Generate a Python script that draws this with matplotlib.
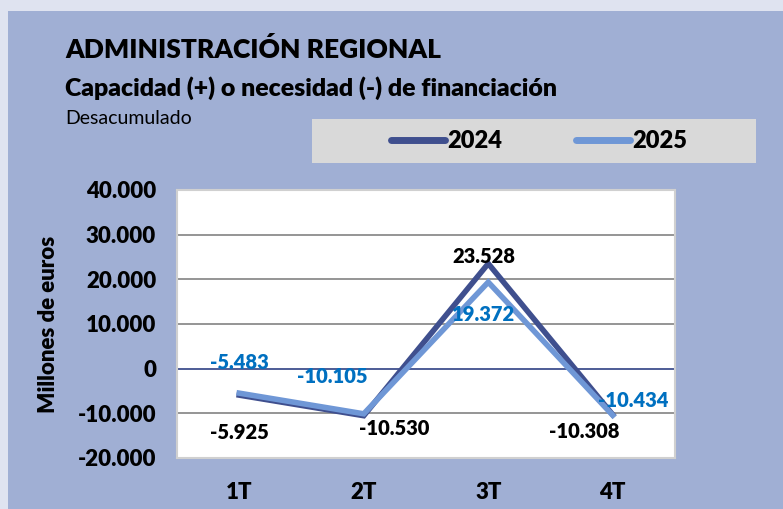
import matplotlib
matplotlib.use("Agg")
import matplotlib.pyplot as plt
from matplotlib.patches import Rectangle
from matplotlib.lines import Line2D

plt.rcParams['font.family'] = ['Lato', 'DejaVu Sans']
BOLD = "heavy"

# data
quarters = ["1T", "2T", "3T", "4T"]
values_2024 = [-5925, -10530, 23528, -10308]
values_2025 = [-5483, -10105, 19372, -10434]
labels_2024 = ["-5.925", "-10.530", "23.528", "-10.308"]
labels_2025 = ["-5.483", "-10.105", "19.372", "-10.434"]
y_ticks = [-20000, -10000, 0, 10000, 20000, 30000, 40000]
y_tick_labels = ["-20.000", "-10.000", "0", "10.000", "20.000", "30.000", "40.000"]

color_2024 = "#3F4F8E"
color_2025 = "#6F97D6"
label_blue = "#0070C0"
panel = "#A0AFD4"
outer = "#DFE3F0"

W, H = 783, 509
fig = plt.figure(figsize=(W / 100, H / 100), dpi=100)
fig.patch.set_facecolor(outer)
fig.patches.append(Rectangle((8 / W, 0), 1, 1 - 11 / H, transform=fig.transFigure,
                             facecolor=panel, edgecolor="none", zorder=0))

# titles
fig.text(65 / W, 1 - 50 / H, "ADMINISTRACIÓN REGIONAL", fontsize=19, fontweight=BOLD,
         va="center", ha="left")
fig.text(65 / W, 1 - 88 / H, "Capacidad (+) o necesidad (-) de financiación", fontsize=17.9,
         fontweight=BOLD, va="center", ha="left")
fig.text(65 / W, 1 - 118 / H, "Desacumulado", fontsize=14, va="center", ha="left")

# legend box
fig.patches.append(Rectangle((312 / W, 1 - 163 / H), 444 / W, 44 / H, transform=fig.transFigure,
                             facecolor="#D9D9D9", edgecolor="none", zorder=1))
handles = [Line2D([], [], color=color_2024, lw=5, solid_capstyle="round"),
           Line2D([], [], color=color_2025, lw=5, solid_capstyle="round")]
fig.legend(handles, ["2024", "2025"], loc="center left", bbox_to_anchor=(379 / W, 1 - 141 / H),
           ncol=2, frameon=False, prop={"weight": BOLD, "size": 17},
           handlelength=2.3, handletextpad=0.1, columnspacing=3.1, borderpad=0)

# plot area
ax = fig.add_axes([177 / W, 1 - 458 / H, 498 / W, 268 / H])
ax.set_zorder(3)
ax.set_facecolor("white")
x = list(range(len(quarters)))
ax.set_xlim(-0.5, 3.5)
ax.set_ylim(-20000, 40000)
ax.set_yticks(y_ticks)
ax.set_yticklabels(y_tick_labels)
ax.set_xticks(x)
ax.set_xticklabels(quarters)
for t in ax.get_xticklabels() + ax.get_yticklabels():
    t.set_fontweight(BOLD)
    t.set_fontsize(16)
ax.tick_params(length=0)
ax.tick_params(axis="y", pad=15)
ax.tick_params(axis="x", pad=17)
for yv in y_ticks[1:-1]:
    ax.axhline(yv, color="#3F4F8E" if yv == 0 else "#8C8C8C", lw=1.3, zorder=1)
for s in ax.spines.values():
    s.set_color("#D0D0D0")
    s.set_linewidth(1.5)

ax.set_ylabel("Millones de euros", fontsize=16, fontweight=BOLD, labelpad=13)

ax.plot(x, values_2024, color=color_2024, lw=4, zorder=3, solid_joinstyle="miter")
ax.plot(x, values_2025, color=color_2025, lw=4, zorder=4, solid_joinstyle="miter")

# data labels (offsets in pixels)
off_2024 = [(0, -37), (30, -13), (-4, 7), (-28, -17)]
off_2025 = [(0, 31), (-31, 37), (-5, -32), (20, 15)]
for i in x:
    ax.annotate(labels_2024[i], (x[i], values_2024[i]), xytext=off_2024[i],
                textcoords="offset pixels", ha="center", va="center",
                fontsize=14.5, fontweight=BOLD, color="black", zorder=5)
    ax.annotate(labels_2025[i], (x[i], values_2025[i]), xytext=off_2025[i],
                textcoords="offset pixels", ha="center", va="center",
                fontsize=14.5, fontweight=BOLD, color=label_blue, zorder=5)

fig.savefig("out.png", dpi=100, facecolor=fig.get_facecolor())
